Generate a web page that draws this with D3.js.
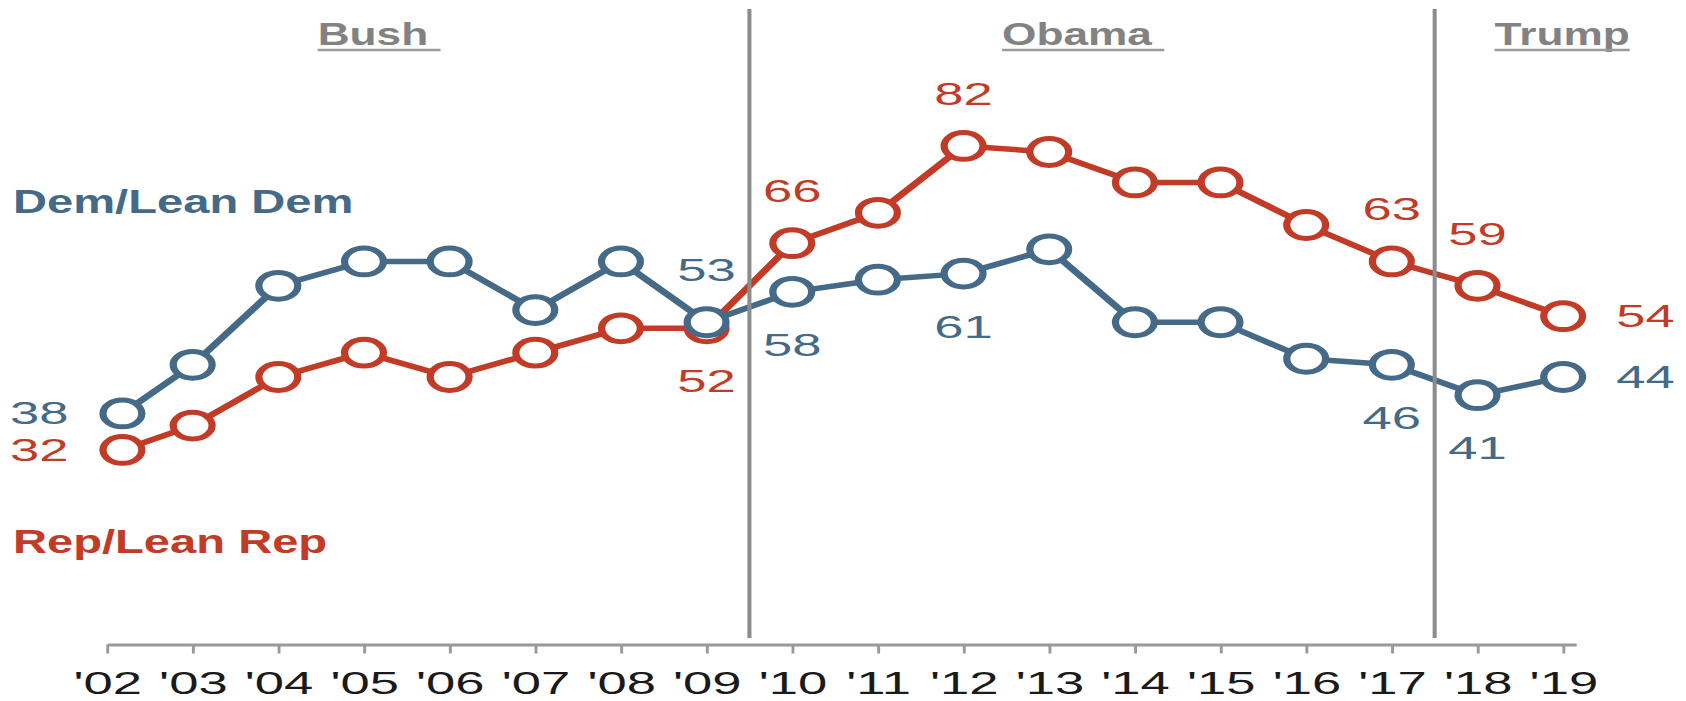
<!DOCTYPE html>
<html lang="en">
<head>
<meta charset="utf-8">
<title>Dem/Lean Dem vs Rep/Lean Rep, 2002-2019</title>
<script src="https://cdn.jsdelivr.net/npm/d3@7"></script>
<style>
  body { margin: 0; background: #fff; }
  text { font-family: "Liberation Sans", Arial, sans-serif; }
  .line { fill: none; stroke-width: 5.5; stroke-linejoin: round; }
  .marker { fill: #fff; stroke-width: 5; }
  .dem { stroke: #446a88; }
  .rep { stroke: #c13b26; }
  .demText { fill: #446a88; }
  .repText { fill: #c13b26; }
  .valueLabel { font-size: 31px; }
  .seriesLabel { font-size: 32.5px; font-weight: bold; }
  .eraLabel { font-size: 30.5px; font-weight: bold; fill: #828282; }
  .eraLine { stroke: #8c8c8c; stroke-width: 2.8; }
  .axis path, .axis line { stroke: #999; }
  .axis path { stroke-width: 3; }
  .axis line { stroke-width: 2; }
  .axis text { font-size: 31px; fill: #1a1a1a; }
</style>
</head>
<body>
<script>

  // Data
  var years = [2002.18, 2003, 2004, 2005, 2006, 2007, 2008, 2009, 2010,
               2011, 2012, 2013, 2014, 2015, 2016, 2017, 2018, 2019];
  var demValues = [38, 46, 59, 63, 63, 55, 63, 53, 58, 60, 61, 65, 53, 53, 47, 46, 41, 44];
  var repValues = [32, 36, 44, 48, 44, 48, 52, 52, 66, 71, 82, 81, 76, 76, 69, 63, 59, 54];

  var tickYears = [2002, 2003, 2004, 2005, 2006, 2007, 2008, 2009, 2010,
                   2011, 2012, 2013, 2014, 2015, 2016, 2017, 2018, 2019];
  var tickLabels = ["'02", "'03", "'04", "'05", "'06", "'07", "'08", "'09", "'10",
                    "'11", "'12", "'13", "'14", "'15", "'16", "'17", "'18", "'19"];

  var eras = ["Bush", "Obama", "Trump"];
  var eraBreaks = [2009.5, 2017.5];

  // Which points carry a value label
  var demLabelled = [0, 7, 8, 10, 15, 16, 17];
  var repLabelled = [0, 7, 8, 10, 15, 16, 17];

  // Layout
  var w = 1686, h = 701;
  var S = 1.45;      // the original art is stretched sideways
  var T = 1.17;      // extra stretch of the regular text
  var demPlace = { 0: "left", 7: "above", 8: "below", 10: "below", 15: "below", 16: "below", 17: "right" };
  var repPlace = { 0: "left", 7: "below", 8: "above", 10: "above", 15: "above", 16: "above", 17: "right" };
  var eraStart = [2004.46, 2012.45, 2018.2];

  var xScale = d3.scaleLinear()
      .domain([2002, 2019.15])
      .range([107 / S, 1576 / S]);

  var yScale = d3.scaleLinear()
      .domain([0, 100])
      .range([644.5, 36.5]);

  var svg = d3.select("body").append("svg")
      .attr("width", w)
      .attr("height", h);

  var g = svg.append("g")
      .attr("transform", "scale(" + S + ",1)");

  // x axis
  var xAxis = d3.axisBottom(xScale)
      .tickValues(tickYears)
      .tickFormat(function(d, i) { return tickLabels[i]; })
      .tickSizeOuter(0)
      .tickSizeInner(9)
      .tickPadding(18.5);

  var ax = g.append("g")
      .attr("class", "axis")
      .attr("transform", "translate(0," + yScale(0) + ")")
      .call(xAxis);
  ax.selectAll("text")
      .attr("font-family", null)
      .attr("font-size", null)
      .attr("transform", "scale(" + T + ",1)");

  // president labels
  eras.forEach(function(name, i) {
    var x0 = xScale(eraStart[i]);
    var t = g.append("text")
        .attr("class", "eraLabel")
        .attr("x", x0)
        .attr("y", 45)
        .text(i < 2 ? name + "\u00a0" : name);
    var len = t.node().getComputedTextLength();
    g.append("line")
        .attr("x1", x0).attr("x2", x0 + len)
        .attr("y1", 50).attr("y2", 50)
        .attr("stroke", "#9a9a9a")
        .attr("stroke-width", 2.6);
  });

  var line = d3.line()
      .x(function(d, i) { return xScale(years[i]); })
      .y(function(d) { return yScale(d); });

  g.append("path").datum(repValues).attr("class", "line rep").attr("d", line);
  g.append("path").datum(demValues).attr("class", "line dem").attr("d", line);

  // term dividers
  g.selectAll(".eraLine")
      .data(eraBreaks)
      .enter().append("line")
      .attr("class", "eraLine")
      .attr("x1", function(d) { return xScale(d); })
      .attr("x2", function(d) { return xScale(d); })
      .attr("y1", 9)
      .attr("y2", 638);

  function drawMarkers(values, cls) {
    g.selectAll(".marker." + cls)
        .data(values)
        .enter().append("circle")
        .attr("class", "marker " + cls)
        .attr("cx", function(d, i) { return xScale(years[i]); })
        .attr("cy", function(d) { return yScale(d); })
        .attr("r", 13.4);
  }
  drawMarkers(repValues, "rep");
  drawMarkers(demValues, "dem");

  function drawLabels(values, idx, place, cls) {
    idx.forEach(function(i) {
      var px = xScale(years[i]), py = yScale(values[i]);
      var where = place[i], x = px, y = py, anchor = "middle";
      if (where == "left") { x = px - 54 / S; y = py + 11; anchor = "end"; }
      if (where == "right") { x = px + 53 / S; y = py + 11; anchor = "start"; }
      if (where == "above") { y = py - 41; }
      if (where == "below") { y = py + 64; }
      g.append("text")
          .attr("class", "valueLabel " + cls)
          .attr("text-anchor", anchor)
          .attr("transform", "translate(" + x + "," + y + ") scale(" + T + ",1)")
          .text(values[i]);
    });
  }
  drawLabels(demValues, demLabelled, demPlace, "demText");
  drawLabels(repValues, repLabelled, repPlace, "repText");

  // series names
  g.append("text")
      .attr("class", "seriesLabel demText")
      .attr("x", 13 / S)
      .attr("y", 213)
      .text("Dem/Lean Dem");

  g.append("text")
      .attr("class", "seriesLabel repText")
      .attr("x", 13 / S)
      .attr("y", 553)
      .text("Rep/Lean Rep");

</script>
</body>
</html>
